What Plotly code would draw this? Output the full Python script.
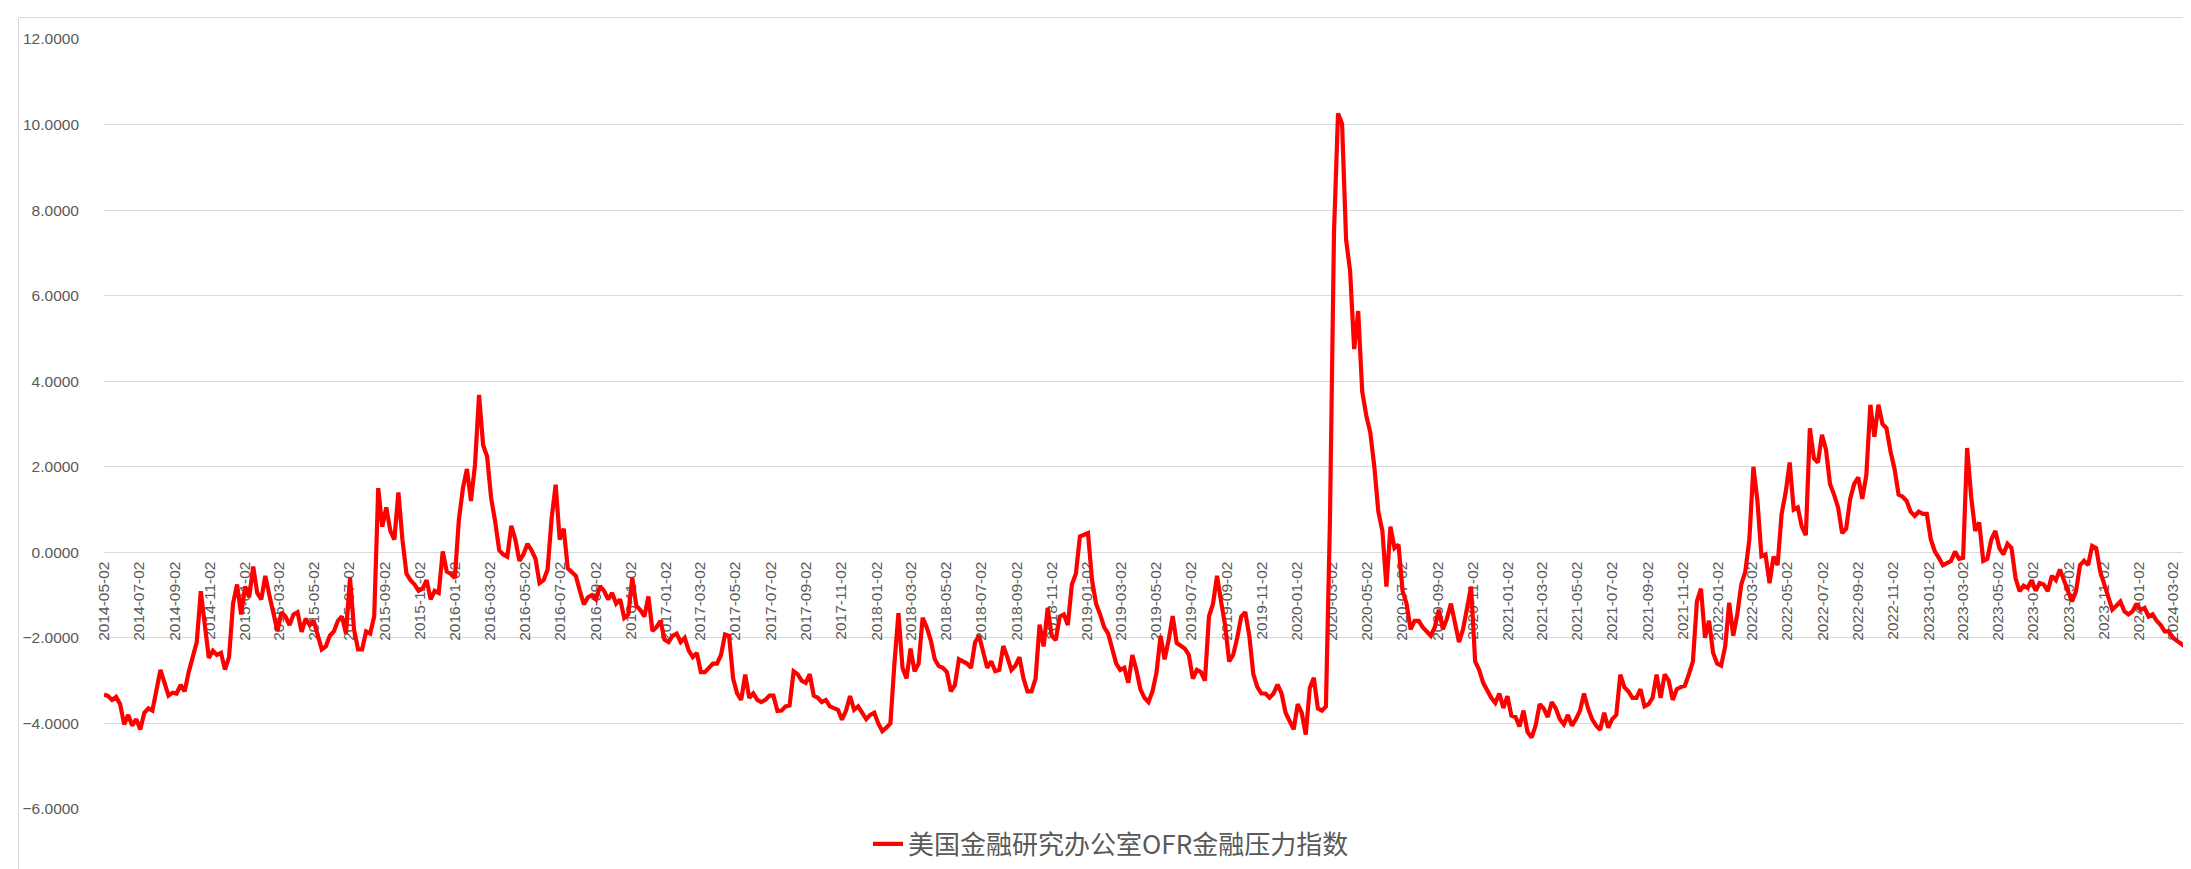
import pandas as pd
import plotly.graph_objects as go

start_date = "2014-05-02"
v_2014_2015 = [
    -3.32, -3.36, -3.45, -3.38, -3.55, -4.02, -3.80, -4.05, -3.90, -4.14,
    -3.75, -3.65, -3.70, -3.20, -2.75, -3.05, -3.35, -3.28, -3.30, -3.10,
    -3.25, -2.80, -2.45, -2.10, -0.91, -1.70, -2.47, -2.30, -2.40, -2.35,
    -2.74, -2.45, -1.20, -0.75, -1.45, -0.80, -1.05, -0.33, -0.95, -1.10,
    -0.55, -1.00, -1.38, -1.84, -1.40, -1.50, -1.70, -1.45, -1.40, -1.86,
    -1.55, -1.70, -1.60, -1.95, -2.27, -2.20, -1.95, -1.85, -1.60, -1.50,
    -1.90, -0.60, -1.80, -2.27, -2.27, -1.85, -1.90, -1.50, 1.50, 0.60,
    1.05, 0.50, 0.30, 1.40, 0.30, -0.50, -0.65, -0.75, -0.90, -0.85,
    -0.65, -1.10, -0.90, -0.95, 0.02, -0.45, -0.50, -0.60, 0.76, 1.50,
    1.95, 1.20, 2.05, 3.68, 2.51, 2.24, 1.27, 0.72, 0.05, -0.05,
    -0.10, 0.62, 0.30, -0.20,
]
v_2016_2017 = [
    -0.05, 0.20, 0.05, -0.15, -0.72, -0.65,
    -0.40, 0.80, 1.58, 0.30, 0.55, -0.37, -0.45, -0.55, -0.90, -1.22,
    -1.05, -1.00, -1.10, -0.79, -0.90, -1.10, -0.95, -1.20, -1.10, -1.53,
    -1.45, -0.60, -1.25, -1.35, -1.50, -1.03, -1.84, -1.75, -1.60, -2.04,
    -2.10, -1.95, -1.90, -2.10, -2.00, -2.30, -2.45, -2.35, -2.80, -2.80,
    -2.70, -2.60, -2.60, -2.40, -1.92, -1.95, -2.95, -3.30, -3.45, -2.86,
    -3.40, -3.30, -3.45, -3.50, -3.45, -3.35, -3.35, -3.71, -3.70, -3.60,
    -3.58, -2.78, -2.85, -3.00, -3.05, -2.85, -3.35, -3.40, -3.50, -3.45,
    -3.60, -3.64, -3.68, -3.91, -3.70, -3.36, -3.68, -3.60, -3.75, -3.90,
    -3.80, -3.75, -4.00, -4.18, -4.10, -4.00,
]
v_2018_2019 = [
    -2.60, -1.42, -2.70, -2.95,
    -2.25, -2.78, -2.60, -1.53, -1.75, -2.05, -2.50, -2.66, -2.70, -2.80,
    -3.25, -3.10, -2.50, -2.55, -2.60, -2.70, -2.10, -1.95, -2.30, -2.70,
    -2.55, -2.78, -2.75, -2.19, -2.45, -2.75, -2.65, -2.45, -2.95, -3.25,
    -3.25, -2.95, -1.69, -2.20, -1.30, -1.95, -2.05, -1.50, -1.45, -1.70,
    -0.75, -0.50, 0.37, 0.41, 0.45, -0.65, -1.20, -1.45, -1.75, -1.90,
    -2.25, -2.60, -2.75, -2.70, -3.05, -2.40, -2.75, -3.20, -3.40, -3.50,
    -3.25, -2.80, -1.95, -2.50, -2.05, -1.49, -2.12, -2.20, -2.25, -2.40,
    -2.95, -2.75, -2.80, -3.00, -1.50, -1.20, -0.55, -1.15, -1.70, -2.55,
    -2.40, -2.00, -1.50, -1.40, -1.95, -2.85, -3.15, -3.30, -3.30, -3.40,
    -3.30, -3.09, -3.30, -3.75, -3.95, -4.14, -3.55, -3.75, -4.26, -3.17,
]
v_2020_2021 = [
    -2.93, -3.65, -3.70, -3.60, 0.76, 7.47, 10.26, 10.02, 7.31, 6.57,
    4.75, 5.64, 3.76, 3.20, 2.80, 2.00, 0.95, 0.50, -0.80, 0.60,
    0.10, 0.18, -0.90, -1.20, -1.80, -1.60, -1.60, -1.75, -1.85, -1.95,
    -1.75, -1.34, -1.80, -1.55, -1.20, -1.60, -2.10, -1.80, -1.25, -0.80,
    -2.55, -2.75, -3.05, -3.25, -3.40, -3.52, -3.30, -3.64, -3.36, -3.82,
    -3.85, -4.07, -3.70, -4.20, -4.33, -4.05, -3.55, -3.65, -3.85, -3.50,
    -3.65, -3.90, -4.02, -3.80, -4.05, -3.90, -3.70, -3.30, -3.65, -3.90,
    -4.05, -4.15, -3.75, -4.10, -3.90, -3.80, -2.86, -3.15, -3.25, -3.40,
    -3.40, -3.20, -3.60, -3.55, -3.40, -2.86, -3.40, -2.85, -3.00, -3.45,
    -3.20, -3.15, -3.12, -2.85, -2.55, -1.14, -0.85, -2.00, -1.60, -2.35,
]
v_2022_2024 = [
    -2.60, -2.65, -2.20, -1.18, -1.95, -1.45, -0.75, -0.45, 0.30, 2.00,
    1.20, -0.09, -0.05, -0.72, -0.10, -0.30, 0.90, 1.40, 2.10, 1.00,
    1.05, 0.60, 0.40, 2.90, 2.20, 2.10, 2.75, 2.40, 1.60, 1.35,
    1.05, 0.45, 0.55, 1.25, 1.60, 1.75, 1.25, 1.80, 3.45, 2.70,
    3.45, 3.00, 2.90, 2.36, 1.95, 1.35, 1.30, 1.20, 0.95, 0.85,
    0.95, 0.90, 0.90, 0.30, 0.02, -0.13, -0.30, -0.25, -0.20, 0.02,
    -0.15, -0.13, 2.44, 1.30, 0.50, 0.70, -0.20, -0.15, 0.30, 0.50,
    0.10, -0.05, 0.20, 0.10, -0.60, -0.91, -0.78, -0.83, -0.65, -0.90,
    -0.72, -0.75, -0.91, -0.55, -0.65, -0.40, -0.65, -0.90, -1.15, -0.91,
    -0.30, -0.20, -0.30, 0.15, 0.10, -0.45, -0.75, -1.10, -1.34, -1.25,
    -1.15, -1.38, -1.45, -1.38, -1.20, -1.35, -1.30, -1.50, -1.45, -1.60,
    -1.70, -1.85, -1.85, -2.00, -2.07, -2.15, -2.20, -1.61, -1.75, -1.60,
]
values = v_2014_2015 + v_2016_2017 + v_2018_2019 + v_2020_2021 + v_2022_2024
dates = pd.date_range(start_date, periods=len(values), freq="7D")

tick_dates = pd.date_range("2014-05-01", "2024-03-01", freq="2MS") + pd.Timedelta(days=1)
tick_text = [d.strftime("%Y-%m-%d") for d in tick_dates]
y_ticks = [-6, -4, -2, 0, 2, 4, 6, 8, 10, 12]

series_name = "美国金融研究办公室OFR金融压力指数"

W, H = 2191, 869
ml, mr, mt, mb = 96, 2, 31, 68
pw, ph = W - ml - mr, H - mt - mb

def px_x(p):
    return (p - ml) / pw

def px_y(p):
    return (H - mb - p) / ph

fig = go.Figure()
fig.add_trace(go.Scatter(
    x=dates, y=values, mode="lines", name=series_name,
    line=dict(color="#FF0000", width=4.2),
))

fig.update_layout(
    width=W, height=H,
    margin=dict(l=ml, r=mr, t=mt, b=mb),
    paper_bgcolor="white", plot_bgcolor="white",
    showlegend=True,
    legend=dict(
        orientation="h", x=px_x(860), xanchor="left", y=px_y(836), yanchor="middle",
        font=dict(family="Noto Sans CJK SC", size=26, color="#595959"),
        bgcolor="rgba(0,0,0,0)",
    ),
    xaxis=dict(
        type="date",
        range=[dates[0], dates[-1]],
        tickmode="array", tickvals=list(tick_dates), ticktext=tick_text,
        tickangle=-90,
        tickfont=dict(family="Liberation Sans", size=15.5, color="#595959"),
        showgrid=False, zeroline=False, showline=False,
        anchor="free", position=6 / 18,
        ticks="outside", ticklen=2, tickcolor="rgba(0,0,0,0)",
        layer="below traces",
    ),
    yaxis=dict(
        range=[-6, 12], tickvals=y_ticks, tickformat=".4f",
        tickfont=dict(family="Liberation Sans", size=15.5, color="#595959"),
        showgrid=True, gridcolor="#D9D9D9", gridwidth=1,
        zeroline=False, showline=False,
        ticklabelstandoff=24,
    ),
    shapes=[
        dict(type="rect", xref="paper", yref="paper",
             x0=px_x(10.5), x1=px_x(2200), y0=px_y(880), y1=px_y(9.5),
             line=dict(color="#D9D9D9", width=1), fillcolor="rgba(0,0,0,0)", layer="below"),
    ],
)

fig.write_html("out.html")
